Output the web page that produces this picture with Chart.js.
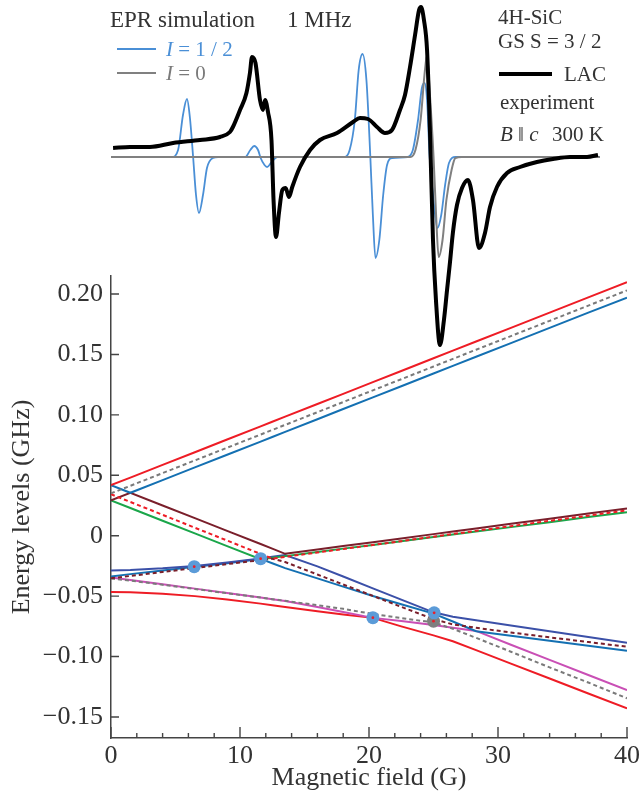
<!DOCTYPE html>
<html lang="en">
<head>
    <meta charset="UTF-8">
    <title>4H-SiC energy levels and LAC spectrum</title>
    <script src="https://cdn.jsdelivr.net/npm/chart.js@4.4.1/dist/chart.umd.min.js"></script>
    <style>
        body { margin: 0; background: #fff; }
        #wrap { position: relative; width: 639px; height: 799px; font-family: 'Liberation Serif', 'Times New Roman', serif; color: #333; }
        canvas { position: absolute; left: 0; top: 0; }
        .t { position: absolute; white-space: pre; line-height: 1; }
        .ln { position: absolute; height: 0; }
    </style>
</head>
<body>
<div id="wrap">
    <canvas id="levels" width="639" height="799"></canvas>
    <canvas id="spectra" width="639" height="360"></canvas>

    <div class="t" style="left:110px;top:8px;font-size:23px">EPR simulation</div>
    <div class="t" style="left:287px;top:8px;font-size:23px">1 MHz</div>
    <div class="ln" style="left:117px;top:48px;width:39px;border-top:2px solid #4a8fd6"></div>
    <div class="t" style="left:166px;top:39px;font-size:21px;color:#4a8fd6"><i>I</i> = 1 / 2</div>
    <div class="ln" style="left:117px;top:72px;width:39px;border-top:2px solid #808080"></div>
    <div class="t" style="left:166px;top:63px;font-size:21px;color:#7a7a7a"><i>I</i> = 0</div>

    <div class="t" style="left:498px;top:7px;font-size:21px">4H-SiC</div>
    <div class="t" style="left:498px;top:31px;font-size:21px">GS S = 3 / 2</div>
    <div class="ln" style="left:499px;top:72px;width:53px;border-top:4px solid #000"></div>
    <div class="t" style="left:564px;top:64px;font-size:21px">LAC</div>
    <div class="t" style="left:500px;top:92px;font-size:21px">experiment</div>
    <div class="t" style="left:500px;top:124px;font-size:21px"><i>B</i> ‖ <i>c</i></div>
    <div class="t" style="left:552px;top:124px;font-size:21px">300 K</div>
</div>
<script>
    // energy levels (GHz) against magnetic field (G)
    const field = [0, 1.5, 4, 6.5, 9, 11.6, 12.5, 13.5, 16, 18, 20.3, 22.5, 25, 26.5, 28.3, 31, 34, 37, 40];

    // I = 1/2 levels (solid)
    const redTop   = [0.0418, 0.0481, 0.0586, 0.0691, 0.0796, 0.0905, 0.0943, 0.0985, 0.1090, 0.1174, 0.1271, 0.1363, 0.1468, 0.1531, 0.1607, 0.1720, 0.1846, 0.1972, 0.2098];
    const blueTop  = [0.0418, 0.0355, 0.0460, 0.0565, 0.0670, 0.0779, 0.0817, 0.0859, 0.0964, 0.1048, 0.1145, 0.1237, 0.1342, 0.1405, 0.1481, 0.1594, 0.1720, 0.1846, 0.1970];
    const maroon   = [0.0292, 0.0355, 0.0250, 0.0145, 0.0040, -0.0069, -0.0107, -0.0150, -0.0115, -0.0086, -0.0054, -0.0023, 0.0013, 0.0034, 0.0059, 0.0098, 0.0140, 0.0183, 0.0225];
    const green    = [0.0292, 0.0229, 0.0124, 0.0019, -0.0086, -0.0195, -0.0183, -0.0169, -0.0135, -0.0107, -0.0076, -0.0045, -0.0011, 0.0010, 0.0034, 0.0071, 0.0112, 0.0154, 0.0195];
    const navy     = [-0.0287, -0.0283, -0.0270, -0.0251, -0.0222, -0.0188, -0.0175, -0.0160, -0.0254, -0.0338, -0.0436, -0.0529, -0.0634, -0.0671, -0.0700, -0.0743, -0.0791, -0.0839, -0.0886];
    const blueLow  = [-0.0338, -0.0318, -0.0287, -0.0258, -0.0227, -0.0192, -0.0228, -0.0268, -0.0353, -0.0421, -0.0499, -0.0567, -0.0645, -0.0710, -0.0790, -0.0828, -0.0869, -0.0911, -0.0952];
    const magenta  = [-0.0345, -0.0366, -0.0402, -0.0438, -0.0474, -0.0512, -0.0525, -0.0540, -0.0590, -0.0632, -0.0680, -0.0706, -0.0738, -0.0762, -0.0788, -0.0902, -0.1028, -0.1153, -0.1278];
    const redLow   = [-0.0465, -0.0468, -0.0480, -0.0500, -0.0528, -0.0562, -0.0575, -0.0590, -0.0625, -0.0652, -0.0680, -0.0750, -0.0825, -0.0873, -0.0947, -0.1059, -0.1182, -0.1306, -0.1429];

    // I = 0 levels (dashed)
    const grayDashTop = [0.0350, 0.0413, 0.0518, 0.0623, 0.0728, 0.0837, 0.0875, 0.0917, 0.1022, 0.1106, 0.1203, 0.1295, 0.1400, 0.1463, 0.1539, 0.1652, 0.1778, 0.1904, 0.2030];
    const redDash     = [0.0343, 0.0279, 0.0173, 0.0066, -0.0040, -0.0151, -0.0190, -0.0175, -0.0139, -0.0110, -0.0077, -0.0045, -0.0008, 0.0014, 0.0040, 0.0079, 0.0123, 0.0166, 0.0210];
    const darkDash    = [-0.0352, -0.0333, -0.0300, -0.0268, -0.0235, -0.0202, -0.0190, -0.0218, -0.0321, -0.0404, -0.0498, -0.0589, -0.0690, -0.0734, -0.0762, -0.0801, -0.0841, -0.0880, -0.0919];
    const grayDashLow = [-0.0355, -0.0371, -0.0406, -0.0441, -0.0476, -0.0512, -0.0525, -0.0539, -0.0575, -0.0605, -0.0648, -0.0682, -0.0718, -0.0770, -0.0845, -0.0960, -0.1090, -0.1215, -0.1345];

    // level anticrossings
    const lacField = [6.45, 11.6, 20.3, 25.05];
    const lacEnergy = [-0.0256, -0.0190, -0.0678, -0.0638];
    const lacFieldI0 = [25.0];
    const lacEnergyI0 = [-0.0707];

    const xLabels = [0, 10, 20, 30, 40];
    const yLabels = [0.20, 0.15, 0.10, 0.05, 0, -0.05, -0.10, -0.15];

    // spectra: [field (G), signal (arb. units)]
    const experiment = [[0.16, 9], [1.47, 10], [3.02, 10], [4.81, 14], [6.9, 17], [8.45, 20], [9.22, 25], [9.45, 30],
        [10.0, 47], [10.5, 64], [10.77, 84], [10.93, 100], [11.2, 94], [11.55, 57], [11.78, 47], [11.94, 57],
        [12.17, 45], [12.44, 17], [12.6, -43], [12.79, -80], [13.02, -56], [13.28, -33], [13.54, -31], [13.8, -40],
        [14.05, -30], [14.65, -10], [15.43, 7], [16.2, 17], [17.52, 24], [18.76, 35], [19.3, 39], [19.92, 38],
        [20.62, 30], [21.24, 24], [21.78, 27], [22.4, 47], [22.79, 62], [23.18, 90], [23.57, 122], [23.88, 147],
        [24.03, 150], [24.26, 137], [24.5, 107], [24.73, 24], [24.96, -83], [25.19, -143], [25.5, -188], [25.81, -163],
        [26.05, -133], [26.28, -105], [26.51, -75], [26.82, -48], [27.21, -31], [27.67, -23], [28.06, -43], [28.53, -91],
        [28.99, -76], [29.38, -50], [29.92, -30], [30.7, -16], [31.71, -10], [33.02, -5], [34.26, -2], [35.58, 0],
        [36.9, 0], [37.75, 2]];
    const simHalf = [[0, 0], [4.73, 0], [5.2, 7], [5.58, 42], [5.89, 58], [6.12, 39], [6.36, 1], [6.59, -38],
        [6.82, -56], [7.13, -38], [7.44, -11], [7.9, -1], [8.3, 0], [10.4, 0], [10.8, 7], [11.1, 11], [11.4, 7],
        [11.6, -1], [11.9, -8], [12.1, -10], [12.4, -6], [12.9, 0], [18.1, 0], [18.5, 7], [18.9, 37], [19.2, 87],
        [19.5, 103], [19.8, 77], [20.1, 1], [20.3, -58], [20.5, -101], [20.8, -83], [21.1, -38], [21.4, -8],
        [21.8, -1], [23.0, 0], [23.4, 7], [23.8, 37], [24.1, 69], [24.3, 74], [24.5, 57], [24.7, 0], [25.0, -43],
        [25.3, -71], [25.6, -58], [25.9, -28], [26.2, -6], [26.7, 0], [37.9, 0]];
    const simZero = [[0, 0], [23.2, 0], [23.6, 7], [24.0, 37], [24.3, 82], [24.5, 102], [24.7, 67], [25.0, 1],
        [25.2, -58], [25.4, -100], [25.7, -83], [26.0, -43], [26.4, -13], [26.7, -1], [27.2, 0], [37.9, 0]];

    Chart.defaults.font.family = "'Liberation Serif', 'Times New Roman', serif";
    Chart.defaults.color = '#333';

    function level(values, color, dash) {
        return {
            data: field.map((b, i) => ({ x: b, y: values[i] })),
            borderColor: color, borderWidth: 2, borderDash: dash || [],
            pointRadius: 0, tension: 0, fill: false
        };
    }
    function dots(xs, ys, color, r) {
        return {
            data: xs.map((b, i) => ({ x: b, y: ys[i] })),
            showLine: false, pointRadius: r, pointBackgroundColor: color,
            pointBorderWidth: 0, borderColor: color
        };
    }

    const insideTicks = {
        id: 'insideTicks',
        afterDraw(chart) {
            const { ctx, chartArea: a, scales: { x, y } } = chart;
            ctx.save();
            ctx.strokeStyle = '#444';
            ctx.lineWidth = 1.4;
            ctx.beginPath();
            x.ticks.forEach(t => {
                const px = x.getPixelForValue(t.value);
                const len = xLabels.includes(t.value) ? 11 : 5;
                ctx.moveTo(px, a.bottom); ctx.lineTo(px, a.bottom - len);
            });
            y.ticks.forEach(t => {
                const py = y.getPixelForValue(t.value);
                ctx.moveTo(a.left, py); ctx.lineTo(a.left + 8, py);
            });
            ctx.stroke();
            ctx.restore();
        }
    };

    new Chart(document.getElementById('levels'), {
        type: 'line',
        data: {
            datasets: [
                dots(lacField, lacEnergy, '#e8202a', 1.4),
                dots(lacFieldI0, lacEnergyI0, '#e8202a', 1.4),
                dots(lacField, lacEnergy, '#5b9bd8', 6.5),
                dots(lacFieldI0, lacEnergyI0, '#7f7f7f', 6.5),
                level(grayDashTop, '#7a7a7a', [4, 3]),
                level(redDash, '#ee1c25', [4, 3]),
                level(darkDash, '#7a1f2b', [4, 3]),
                level(grayDashLow, '#7a7a7a', [4, 3]),
                level(redTop, '#ee1c25'),
                level(blueTop, '#1470b2'),
                level(maroon, '#7a1f2b'),
                level(green, '#1aa64a'),
                level(navy, '#3b50a8'),
                level(blueLow, '#1470b2'),
                level(magenta, '#c94fb5'),
                level(redLow, '#ee1c25')
            ]
        },
        options: {
            responsive: false,
            animation: false,
            devicePixelRatio: 1,
            layout: { padding: { left: 0, right: 12, top: 276, bottom: 0 } },
            plugins: { legend: { display: false }, tooltip: { enabled: false } },
            scales: {
                x: {
                    type: 'linear', min: 0, max: 40,
                    grid: { display: false, drawTicks: false },
                    border: { display: true, color: '#444', width: 1.5 },
                    ticks: {
                        stepSize: 2, autoSkip: false, maxRotation: 0, padding: 3,
                        font: { size: 26 }, color: '#333',
                        callback: v => xLabels.includes(v) ? String(v) : ''
                    },
                    title: { display: true, text: 'Magnetic field (G)', font: { size: 26 }, color: '#333', padding: { top: 0, bottom: 5 } },
                    afterFit: s => { s.height = 61; s.paddingLeft = 0; s.paddingRight = 0; }
                },
                y: {
                    type: 'linear', min: -0.1674, max: 0.2149,
                    grid: { display: false, drawTicks: false },
                    border: { display: true, color: '#444', width: 1.5 },
                    ticks: {
                        padding: 8, font: { size: 26 }, color: '#333', includeBounds: false,
                        callback: v => v === 0 ? '0' : (v < 0 ? '\u2212' : '') + Math.abs(v).toFixed(2)
                    },
                    afterBuildTicks: s => { s.ticks = yLabels.map(v => ({ value: v })); },
                    title: { display: true, text: 'Energy levels (GHz)', font: { size: 26 }, color: '#333', padding: { top: 7, bottom: 0 } },
                    afterFit: s => { s.width = 111; s.paddingTop = 0; s.paddingBottom = 0; }
                }
            }
        },
        plugins: [insideTicks]
    });

    function trace(points, color, width) {
        return {
            data: points.map(p => ({ x: p[0], y: p[1] })),
            borderColor: color, borderWidth: width, pointRadius: 0,
            cubicInterpolationMode: 'monotone', fill: false
        };
    }

    new Chart(document.getElementById('spectra'), {
        type: 'line',
        data: {
            datasets: [
                trace(experiment, '#000', 4),
                trace(simZero, '#808080', 2),
                trace(simHalf, '#4a8fd6', 1.8)
            ]
        },
        options: {
            responsive: false,
            animation: false,
            devicePixelRatio: 1,
            layout: { padding: { left: 111, right: 12, top: 0, bottom: 0 } },
            plugins: { legend: { display: false }, tooltip: { enabled: false } },
            scales: {
                x: { type: 'linear', min: 0, max: 40, display: false },
                y: { min: -203, max: 157, display: false }
            }
        }
    });
</script>
</body>
</html>
